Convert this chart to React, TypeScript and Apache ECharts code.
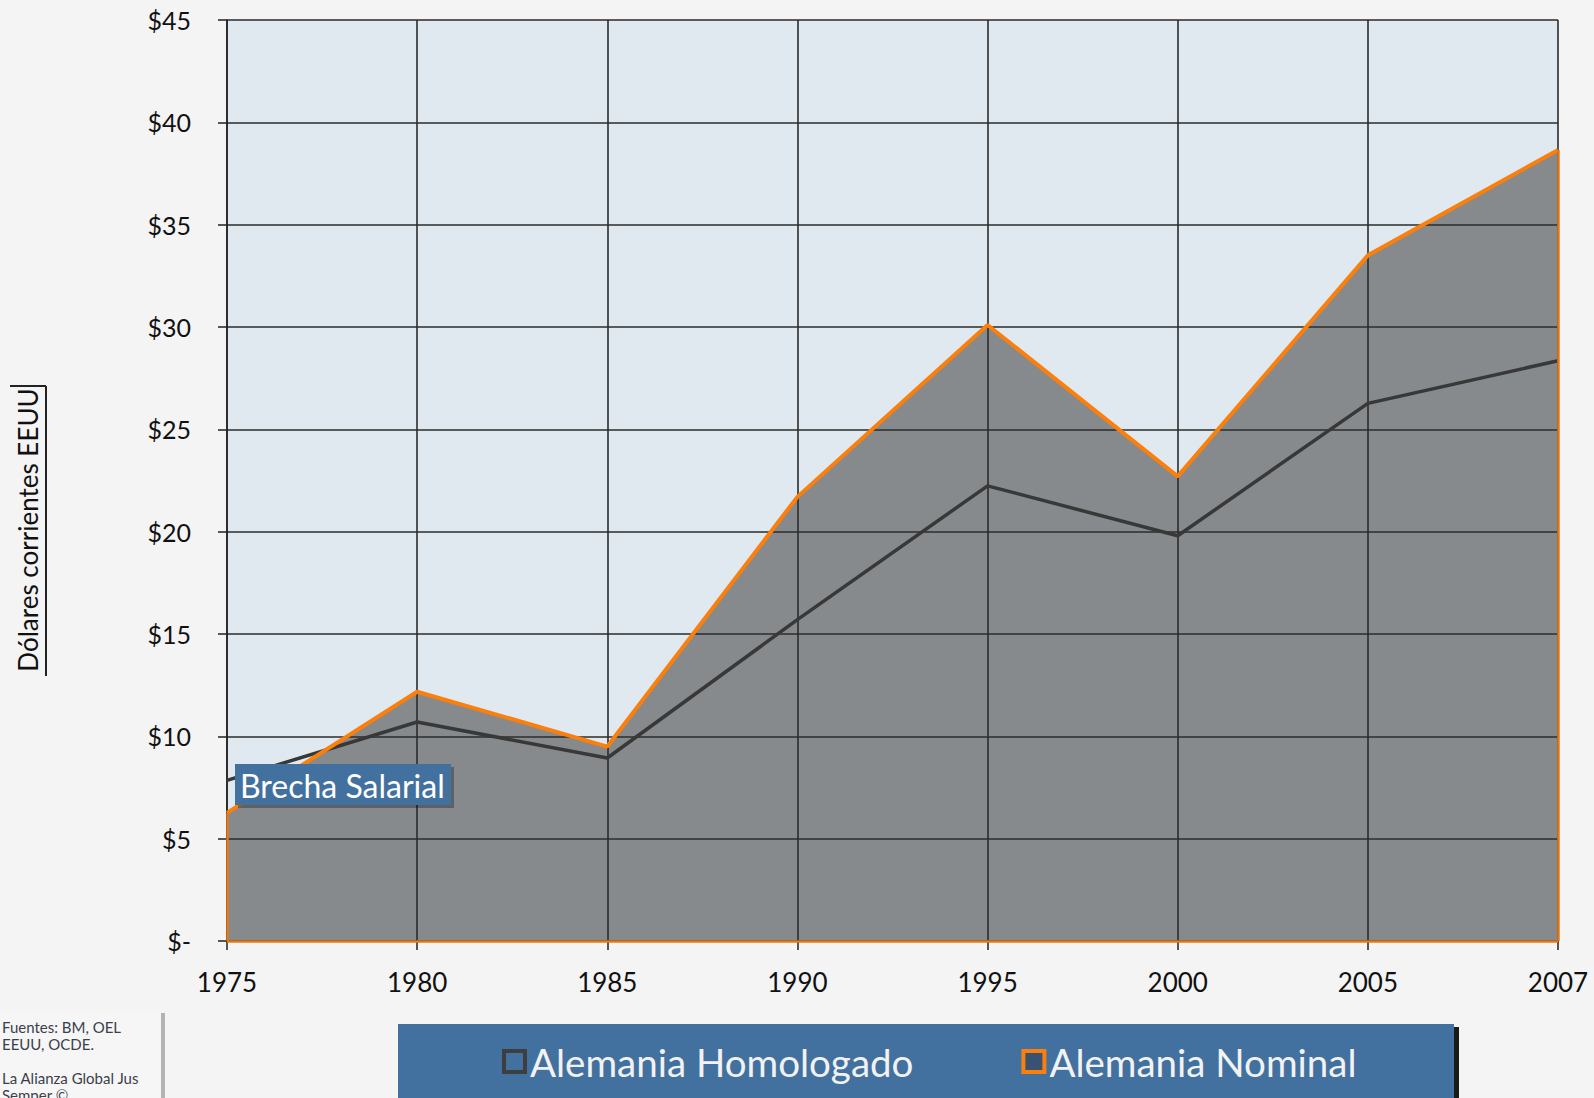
import React, { useEffect, useRef } from "react";
import * as echarts from "echarts";

const years = ["1975", "1980", "1985", "1990", "1995", "2000", "2005", "2007"];
const nominal = [6.26, 12.18, 9.5, 21.7, 30.1, 22.7, 33.5, 38.65];
const homologado = [7.85, 10.7, 8.94, 15.7, 22.24, 19.8, 26.27, 28.35];
const yTickLabels = ["$-", "$5", "$10", "$15", "$20", "$25", "$30", "$35", "$40", "$45"];
const seriesNames = ["Alemania Homologado", "Alemania Nominal"];
const yAxisTitle = "Dólares corrientes EEUU";
const gapLabel = "Brecha Salarial";
const sourceLines = ["Fuentes: BM, OEL", "EEUU, OCDE.", "", "La Alianza Global Jus", "Semper ©"];

const FONT = "Lato";
const ORANGE = "#fb7f0a";
const DARK = "#383838";
const GREY_AREA = "#878a8d";
const BLUE = "#4271a0";

export default function App() {
  const ref = useRef<HTMLDivElement>(null);
  useEffect(() => {
    document.body.style.margin = "0";
    const chart = echarts.init(ref.current!, null, { renderer: "svg" });
    const last = years.length - 1;
    chart.setOption({
      animation: false,
      backgroundColor: "#f4f4f4",
      grid: {
        left: 227,
        top: 20,
        right: 36,
        bottom: 157,
        show: true,
        backgroundColor: "#dfe9ef",
        borderWidth: 0,
      },
      xAxis: {
        type: "category",
        data: years,
        boundaryGap: false,
        z: 2,
        axisLine: { show: true, lineStyle: { color: "#222", width: 1.5 } },
        axisTick: { show: true, inside: false, length: 9, lineStyle: { color: "#222", width: 1.5 } },
        axisLabel: { color: "#111", fontFamily: FONT, fontSize: 26, margin: 28 },
        splitLine: { show: true, lineStyle: { color: "#2b2b2b", width: 1.6 } },
      },
      yAxis: {
        type: "value",
        min: 0,
        max: 45,
        interval: 5,
        z: 2,
        axisLine: { show: true, lineStyle: { color: "#222", width: 1.5 } },
        axisTick: { show: true, inside: false, length: 9, lineStyle: { color: "#222", width: 1.5 } },
        axisLabel: {
          color: "#111",
          fontFamily: FONT,
          fontSize: 25,
          margin: 36,
          formatter: (v: number) => yTickLabels[Math.round(v / 5)],
        },
        splitLine: { show: true, lineStyle: { color: "#2b2b2b", width: 1.6 } },
      },
      legend: {
        data: [
          {
            name: seriesNames[0],
            icon: "rect",
            itemStyle: { color: BLUE, borderColor: "#3e3e3e", borderWidth: 4 },
          },
          {
            name: seriesNames[1],
            icon: "rect",
            itemStyle: { color: "#3a5272", borderColor: ORANGE, borderWidth: 4 },
          },
        ],
        left: 497,
        top: 1037,
        itemWidth: 21,
        itemHeight: 21,
        itemGap: 108,
        textStyle: { color: "#f2f2f2", fontFamily: FONT, fontSize: 38.5 },
        selectedMode: false,
        z: 10,
      },
      series: [
        {
          name: seriesNames[1],
          type: "line",
          data: nominal,
          z: 1,
          symbol: "none",
          lineStyle: { width: 0, color: ORANGE },
          itemStyle: { color: ORANGE },
          areaStyle: { color: GREY_AREA, opacity: 1 },
        },
        {
          name: seriesNames[0],
          type: "line",
          data: homologado,
          z: 3,
          symbol: "none",
          lineStyle: { width: 3.5, color: DARK },
          itemStyle: { color: DARK },
        },
        {
          name: seriesNames[1],
          type: "line",
          data: nominal,
          z: 4,
          symbol: "none",
          lineStyle: { width: 4, color: ORANGE },
          itemStyle: { color: ORANGE },
          markLine: {
            silent: true,
            symbol: ["none", "none"],
            label: { show: false },
            lineStyle: { color: "#e57a18", width: 2.5, type: "solid" },
            data: [
              [{ coord: [years[0], 0] }, { coord: [years[0], nominal[0]] }],
              [{ coord: [years[last], 0] }, { coord: [years[last], nominal[last]] }],
              [{ coord: [years[0], 0] }, { coord: [years[last], 0] }],
            ],
          },
        },
      ],
      graphic: [
        // y-axis title
        {
          type: "text",
          x: 28,
          y: 530,
          rotation: Math.PI / 2,
          style: {
            text: yAxisTitle,
            fill: "#111",
            font: `26px ${FONT}`,
            align: "center",
            verticalAlign: "middle",
          },
        },
        {
          type: "line",
          shape: { x1: 46, y1: 386, x2: 46, y2: 676 },
          style: { stroke: "#222", lineWidth: 2 },
        },
        {
          type: "line",
          shape: { x1: 10, y1: 386, x2: 46, y2: 386 },
          style: { stroke: "#222", lineWidth: 2 },
        },
        // gap label
        {
          type: "rect",
          shape: { x: 238, y: 767, width: 216, height: 41 },
          style: { fill: "rgba(0,0,0,0.3)" },
          z: 20,
        },
        {
          type: "rect",
          shape: { x: 235, y: 764, width: 216, height: 41 },
          style: { fill: BLUE },
          z: 21,
        },
        {
          type: "text",
          x: 240,
          y: 785,
          z: 22,
          style: {
            text: gapLabel,
            fill: "#ffffff",
            font: `32px ${FONT}`,
            verticalAlign: "middle",
          },
        },
        // legend box
        {
          type: "rect",
          shape: { x: 402, y: 1027, width: 1057, height: 80 },
          style: { fill: "#1a1a1a" },
          z: 5,
        },
        {
          type: "rect",
          shape: { x: 398, y: 1024, width: 1056, height: 80 },
          style: { fill: BLUE },
          z: 6,
        },
        // source box
        {
          type: "rect",
          shape: { x: 0, y: 1013, width: 165, height: 90 },
          style: { fill: "#b4b4b4" },
          z: 5,
        },
        {
          type: "rect",
          shape: { x: 0, y: 1011, width: 161, height: 90 },
          style: { fill: "#f6f6f6" },
          z: 6,
        },
        {
          type: "text",
          x: 2,
          y: 1018,
          z: 7,
          style: {
            text: sourceLines.join("\n"),
            fill: "#3a3f4a",
            font: `15px ${FONT}`,
            lineHeight: 17,
          },
        },
      ],
    });
    return () => chart.dispose();
  }, []);
  return (
    <div
      ref={ref}
      style={{ position: "absolute", left: 0, top: 0, width: 1594, height: 1098 }}
    />
  );
}
